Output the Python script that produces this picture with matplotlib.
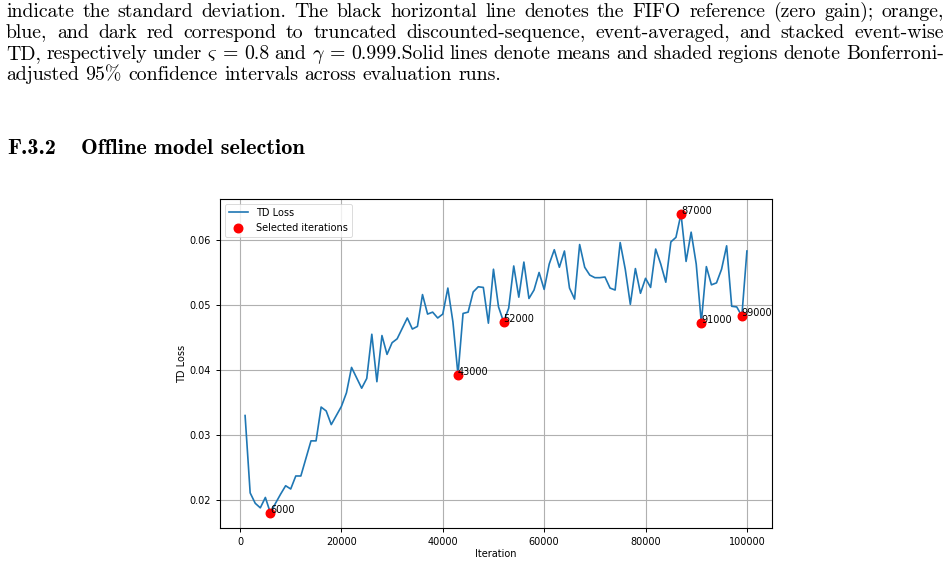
import matplotlib
matplotlib.use('Agg')
import matplotlib.pyplot as plt
import numpy as np

# TD loss per evaluated checkpoint
iterations = np.arange(1000, 100001, 1000)
td_loss = [
    0.0330, 0.0211, 0.0195, 0.0188, 0.0204, 0.0180, 0.0195, 0.0209, 0.0222, 0.0217,
    0.0237, 0.0237, 0.0264, 0.0291, 0.0291, 0.0343, 0.0337, 0.0316, 0.0330, 0.0344,
    0.0365, 0.0404, 0.0388, 0.0372, 0.0387, 0.0455, 0.0382, 0.0453, 0.0424, 0.0442,
    0.0448, 0.0464, 0.0480, 0.0463, 0.0467, 0.0516, 0.0486, 0.0489, 0.0480, 0.0486,
    0.0526, 0.0474, 0.0393, 0.0487, 0.0489, 0.0520, 0.0528, 0.0527, 0.0472, 0.0555,
    0.0497, 0.0474, 0.0495, 0.0560, 0.0512, 0.0566, 0.0510, 0.0523, 0.0550, 0.0524,
    0.0563, 0.0585, 0.0558, 0.0583, 0.0526, 0.0509, 0.0593, 0.0558, 0.0546, 0.0542,
    0.0542, 0.0543, 0.0526, 0.0523, 0.0596, 0.0555, 0.0501, 0.0556, 0.0518, 0.0541,
    0.0527, 0.0586, 0.0563, 0.0535, 0.0597, 0.0604, 0.0640, 0.0567, 0.0612, 0.0563,
    0.0473, 0.0559, 0.0531, 0.0534, 0.0555, 0.0591, 0.0498, 0.0497, 0.0483, 0.0583,
]
selected_iters = [6000, 43000, 52000, 87000, 91000, 99000]

caption_lines = [
    "indicate the standard deviation. The black horizontal line denotes the FIFO reference (zero gain); orange,",
    "blue, and dark red correspond to truncated discounted-sequence, event-averaged, and stacked event-wise",
    r"TD, respectively under $\varsigma$ = 0.8 and $\gamma$ = 0.999.Solid lines denote means and shaded regions denote Bonferroni-",
    "adjusted 95% confidence intervals across evaluation runs.",
]
section_num = "F.3.2"
section_title = "Offline model selection"

plt.rcParams['mathtext.fontset'] = 'cm'

W, H = 951, 563
fig = plt.figure(figsize=(W / 100, H / 100), dpi=100)
renderer = fig.canvas.get_renderer()

def px(x, y):
    return x / W, 1 - y / H

def word_widths(words, **kw):
    out = []
    for w in words:
        t = fig.text(0, 0, w, **kw)
        out.append(t.get_window_extent(renderer).width)
        t.remove()
    return out

# caption paragraph, justified by hand
serif = ['cmr10', 'DejaVu Serif']
last_words = caption_lines[-1].split(' ')
space = 6.5
base = word_widths(last_words, family=serif, fontsize=12)
body_size = 12 * (497 - space * (len(last_words) - 1)) / sum(base)
body = dict(family=serif, fontsize=body_size, color='black', va='baseline', ha='left')

left, right = 6, 944
for i, line in enumerate(caption_lines):
    yb = 17 + 21 * i
    words = line.split(' ')
    widths = word_widths(words, **body)
    if i < len(caption_lines) - 1:
        gap = (right - left - sum(widths)) / (len(words) - 1)
    else:
        gap = space
    x = left
    for w, wd in zip(words, widths):
        fig.text(*px(x, yb), w, **body)
        x += wd + gap

head = dict(family=['cmb10', 'DejaVu Serif'], fontsize=16.1, fontweight='bold', va='baseline')
fig.text(*px(7, 154), section_num, **head)
fig.text(*px(81, 154), section_title, **head)

# the plot itself
ax = fig.add_axes([220 / W, 1 - 528 / H, (772 - 220) / W, (528 - 199) / H])
ax.plot(iterations, td_loss, color='#1f77b4', lw=1.2, label='TD Loss')
loss_map = dict(zip(iterations, td_loss))
sel_vals = [loss_map[s] for s in selected_iters]
ax.scatter(selected_iters, sel_vals, color='red', s=38, zorder=3, label='Selected iterations')
for s, v in zip(selected_iters, sel_vals):
    ax.annotate(str(s), (s, v), fontsize=7)

ax.set_xlabel('Iteration', fontsize=7, labelpad=1.5)
ax.set_ylabel('TD Loss', fontsize=7, labelpad=2)
ax.tick_params(labelsize=7, length=3, width=0.7)
for sp in ax.spines.values():
    sp.set_linewidth(0.8)
ax.grid(True, color='#b0b0b0', lw=0.8)
leg = ax.legend(loc='upper left', fontsize=7, borderpad=0.4, handlelength=2.0)
leg.get_frame().set_linewidth(0.6)

fig.savefig('out.png', dpi=100)
